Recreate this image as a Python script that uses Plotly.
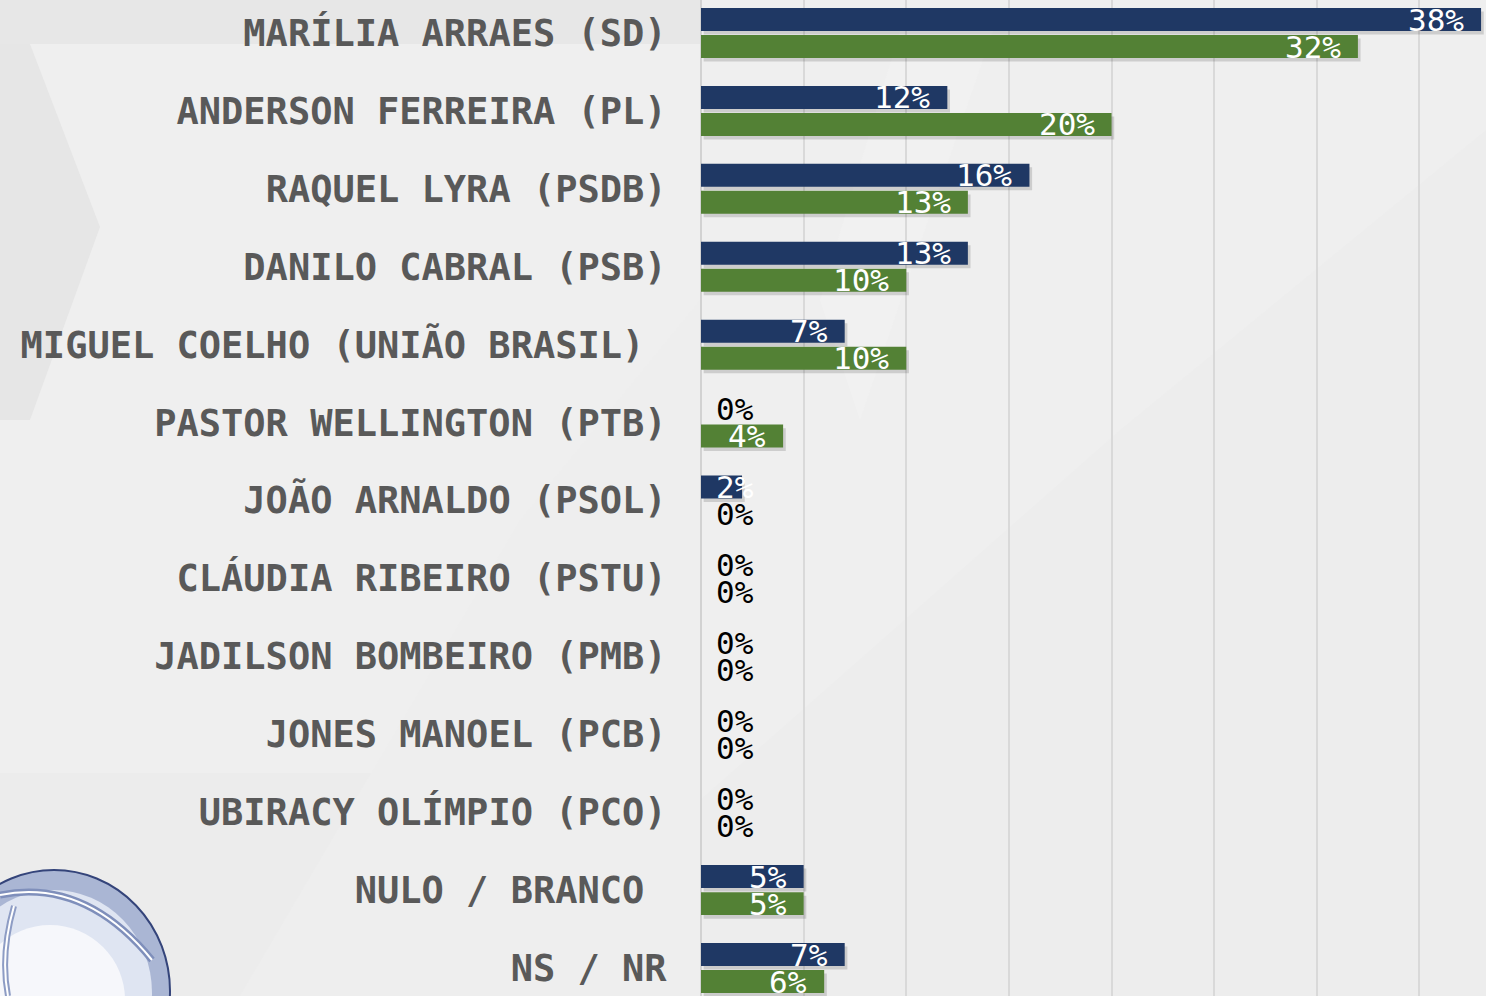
import plotly.graph_objects as go

categories = [
    "MARÍLIA ARRAES (SD)",
    "ANDERSON FERREIRA (PL)",
    "RAQUEL LYRA (PSDB)",
    "DANILO CABRAL (PSB)",
    "MIGUEL COELHO (UNIÃO BRASIL)",
    "PASTOR WELLINGTON (PTB)",
    "JOÃO ARNALDO (PSOL)",
    "CLÁUDIA RIBEIRO (PSTU)",
    "JADILSON BOMBEIRO (PMB)",
    "JONES MANOEL (PCB)",
    "UBIRACY OLÍMPIO (PCO)",
    "NULO / BRANCO",
    "NS / NR",
]
series_blue = [38, 12, 16, 13, 7, 0, 2, 0, 0, 0, 0, 5, 7]
series_green = [32, 20, 13, 10, 10, 4, 0, 0, 0, 0, 0, 5, 6]

BLUE = "#1f3864"
GREEN = "#538135"
LABEL_GRAY = "#595959"

W, H = 1486, 996
L = 701
XMAX = 38.24

# labels nudged left in the original layout
padded = {"MIGUEL COELHO (UNIÃO BRASIL)", "NULO / BRANCO"}
ticktext = [c + ("\u00a0" if c in padded else "") for c in categories]

fig = go.Figure()

BAR_W = 0.295
series = [(series_blue, BLUE, -0.321, 13.5), (series_green, GREEN, 0.026, -13.5)]

# shadows
for vals, col, off, ys in series:
    fig.add_trace(go.Bar(
        y=categories, x=vals, orientation="h", base=0.13,
        offset=off + 0.045, width=BAR_W,
        marker=dict(color="rgba(0,0,0,0.14)", line=dict(width=0)),
        hoverinfo="skip", showlegend=False,
    ))
for vals, col, off, ys in series:
    fig.add_trace(go.Bar(
        y=categories, x=vals, orientation="h",
        offset=off, width=BAR_W,
        marker=dict(color=col, line=dict(width=0)),
        showlegend=False,
    ))

annotations = []
for vals, col, off, ys in series:
    for c, v in zip(categories, vals):
        txt = f"{v}%"
        if v >= 3:
            annotations.append(dict(x=v, y=c, xref="x", yref="y", text=txt,
                                    showarrow=False, xanchor="right", xshift=-15, yshift=ys,
                                    font=dict(family="DejaVu Sans Mono", size=31, color="white")))
        else:
            annotations.append(dict(x=0, y=c, xref="x", yref="y", text=txt,
                                    showarrow=False, xanchor="left", xshift=13, yshift=ys,
                                    font=dict(family="DejaVu Sans Mono", size=31,
                                              color="white" if v > 0 else "black")))


def px(x):
    return (x - L) / (W - L)


def py(y):
    return 1 - y / H


def poly(points, color):
    d = "M " + " L ".join(f"{px(x):.5f},{py(y):.5f}" for x, y in points) + " Z"
    return dict(type="path", xref="paper", yref="paper", path=d,
                fillcolor=color, line=dict(width=0), layer="below")


shapes = [
    poly([(0, 0), (700, 0), (700, 44), (0, 44)], "#e7e7e7"),
    poly([(0, 44), (30, 44), (100, 227), (30, 420), (0, 420)], "#e6e6e6"),
    poly([(0, 773), (700, 773), (700, 996), (0, 996)], "#ececec"),
    poly([(240, 996), (520, 520), (700, 300), (700, 996)], "#eeeeee"),
    poly([(700, 996), (700, 800), (1120, 430), (1486, 130), (1486, 996)], "#ededed"),
    poly([(900, 30), (1000, 10), (860, 420), (820, 300)], "#f1f1f1"),
]

# logo (sphere)
shapes.append(dict(type="circle", xref="paper", yref="paper",
                   x0=px(-62), x1=px(170), y0=py(1112), y1=py(870),
                   fillcolor="#aab6d4", line=dict(color="#34447a", width=2), layer="above"))
shapes.append(dict(type="circle", xref="paper", yref="paper",
                   x0=px(-45), x1=px(152), y0=py(1095), y1=py(890),
                   fillcolor="#dfe5f2", line=dict(width=0), layer="above"))
shapes.append(dict(type="circle", xref="paper", yref="paper",
                   x0=px(-25), x1=px(125), y0=py(1075), y1=py(925),
                   fillcolor="#f6f7fb", line=dict(width=0), layer="above"))
sw = f"M {px(0):.5f},{py(895):.5f} Q {px(85):.5f},{py(878):.5f} {px(152):.5f},{py(960):.5f}"
shapes.append(dict(type="path", xref="paper", yref="paper", path=sw,
                   line=dict(color="#7f8fbb", width=7), layer="above"))
shapes.append(dict(type="path", xref="paper", yref="paper", path=sw,
                   line=dict(color="#ffffff", width=2), layer="above"))
sw2 = f"M {px(14):.5f},{py(906):.5f} Q {px(0):.5f},{py(955):.5f} {px(8):.5f},{py(996):.5f}"
shapes.append(dict(type="path", xref="paper", yref="paper", path=sw2,
                   line=dict(color="#8d9cc4", width=6), layer="above"))
shapes.append(dict(type="path", xref="paper", yref="paper", path=sw2,
                   line=dict(color="#ffffff", width=2), layer="above"))

fig.update_layout(
    width=W, height=H, autosize=False,
    margin=dict(l=L, r=0, t=0, b=0, pad=0),
    paper_bgcolor="#efefef", plot_bgcolor="rgba(0,0,0,0)",
    barmode="overlay",
    showlegend=False,
    annotations=annotations,
    shapes=shapes,
    xaxis=dict(range=[0, XMAX], dtick=5, tick0=0, showgrid=True, gridcolor="#d9d9d9",
               gridwidth=2, showticklabels=False, zeroline=True, zerolinecolor="#d2d2d2",
               zerolinewidth=2, showline=False, fixedrange=True),
    yaxis=dict(type="category", categoryorder="array", categoryarray=categories,
               tickmode="array", tickvals=categories, ticktext=ticktext,
               range=[12.359, -0.4236], showgrid=False, zeroline=False,
               ticks="outside", ticklen=26, tickcolor="rgba(0,0,0,0)",
               tickfont=dict(family="DejaVu Sans Mono", size=37, color=LABEL_GRAY, weight="bold"),
               automargin=False, fixedrange=True),
)

fig.write_html(
    "out.html",
    config={"displayModeBar": False},
    post_script="document.body.style.margin='0';document.body.style.padding='0';"
                "document.body.style.overflow='hidden';",
)
